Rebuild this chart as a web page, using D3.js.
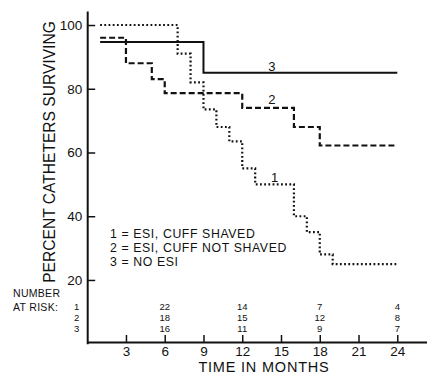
<!DOCTYPE html>
<html>
<head>
<meta charset="utf-8">
<script src="https://cdn.jsdelivr.net/npm/d3@7"></script>
<style>
  body { margin: 0; background: #fff; }
  svg text { font-family: "Liberation Sans", Arial, Helvetica, sans-serif; fill: #111; }
</style>
</head>
<body>
<div id="graphicContainer"></div>
<script>
// survival curves (months, percent surviving)
var months1 = [1, 7, 8, 9, 10, 11, 12, 13, 16, 17, 18, 19, 24]
var values1 = [100, 91, 82, 73.5, 68, 63.5, 55, 50, 40, 35, 28, 25, 25]

var months2 = [1, 3, 5, 6, 12, 16, 18, 24]
var values2 = [96, 88, 83, 78.6, 74, 68, 62.2, 62.2]

var months3 = [1, 9, 24]
var values3 = [94.7, 85, 85]

var xTicks = [3, 6, 9, 12, 15, 18, 21, 24]
var yTicks = [20, 40, 60, 80, 100]

var legendLines = ["1 = ESI, CUFF SHAVED", "2 = ESI, CUFF NOT SHAVED", "3 = NO ESI"]

var riskMonths = [6, 12, 18, 24]
var riskRows = ["1", "2", "3"]
var risk1 = [22, 14, 7, 4]
var risk2 = [18, 15, 12, 8]
var risk3 = [16, 11, 9, 7]

// where each curve number sits (month, percent)
var curveLabels = ["1", "2", "3"]
var curveLabelMonth = [14.5, 14.3, 14.3]
var curveLabelValue = [52.3, 76.5, 87]

let target = "#graphicContainer";

function makeChart() {

    var width = 427, height = 375;

    var svg = d3.select(target).append("svg")
        .attr("width", width)
        .attr("height", height)

    var x = d3.scaleLinear()
        .domain([0, 26.3])
        .range([87.2, 427])

    var y = d3.scaleLinear()
        .domain([0, 104.4])
        .range([343.7, 11])

    // axes
    var xAxis = svg.append("g")
        .attr("transform", "translate(0,342)")
        .call(d3.axisBottom(x).tickValues(xTicks).tickSize(-7).tickSizeOuter(0).tickPadding(5))

    var yAxis = svg.append("g")
        .attr("transform", "translate(" + x(0) + ",0)")
        .call(d3.axisLeft(y).tickValues(yTicks).tickSize(-8).tickSizeOuter(0).tickPadding(6))

    ;[xAxis, yAxis].forEach(a => {
        a.select(".domain").attr("stroke", "#111").attr("stroke-width", 2)
        a.selectAll(".tick line").attr("stroke", "#111").attr("stroke-width", 1.5)
        a.selectAll("text")
            .attr("font-size", 13.5)
            .attr("font-family", "Liberation Sans, Arial, sans-serif")
            .attr("fill", "#111")
    })
    xAxis.selectAll("text").attr("dy", "0.63em")
    yAxis.selectAll(".tick text").attr("x", -5)

    // curves
    var line = d3.line()
        .x(d => x(d[0]))
        .y(d => y(d[1]))
        .curve(d3.curveStepAfter)

    var series = [
        {pts: d3.zip(months1, values1), dash: "1.8,2.4", width: 2.2},
        {pts: d3.zip(months2, values2), dash: "6,3", width: 2.2},
        {pts: d3.zip(months3, values3), dash: null, width: 2}
    ]

    svg.selectAll(".curve")
        .data(series)
        .enter()
        .append("path")
            .attr("class", "curve")
            .attr("fill", "none")
            .attr("stroke", "#111")
            .attr("stroke-width", d => d.width)
            .attr("stroke-dasharray", d => d.dash)
            .attr("d", d => line(d.pts))

    svg.selectAll(".clabel")
        .data(curveLabels)
        .enter()
        .append("text")
            .attr("class", "clabel")
            .attr("x", (d, i) => x(curveLabelMonth[i]))
            .attr("y", (d, i) => y(curveLabelValue[i]))
            .attr("text-anchor", "middle")
            .attr("dy", "0.35em")
            .attr("font-size", 13)
            .attr("fill", "#111")
            .text(d => d)

    // legend
    svg.selectAll(".legend")
        .data(legendLines)
        .enter()
        .append("text")
            .attr("class", "legend")
            .attr("x", 110)
            .attr("y", (d, i) => 237.7 + i * 14.2)
            .attr("font-size", 12.3)
            .attr("letter-spacing", 0.6)
            .attr("fill", "#111")
            .text(d => d)

    // axis titles
    svg.append("text")
        .attr("transform", "translate(55,152) rotate(-90)")
        .attr("text-anchor", "middle")
        .attr("font-size", 15.6)
        .attr("fill", "#111")
        .text("PERCENT CATHETERS SURVIVING")

    svg.append("text")
        .attr("x", 264)
        .attr("y", 371.8)
        .attr("text-anchor", "middle")
        .attr("font-size", 14.5)
        .attr("letter-spacing", 0.8)
        .attr("fill", "#111")
        .text("TIME IN MONTHS")

    // number at risk table
    svg.append("text")
        .attr("x", 13).attr("y", 297)
        .attr("font-size", 10.5)
        .attr("letter-spacing", 0.3)
        .attr("fill", "#111")
        .text("NUMBER")
    svg.append("text")
        .attr("x", 13).attr("y", 310.7)
        .attr("font-size", 10.5)
        .attr("letter-spacing", 0.3)
        .attr("fill", "#111")
        .text("AT RISK:")

    var rowY = [309.5, 320.5, 331.7]
    var riskData = [risk1, risk2, risk3]

    svg.selectAll(".rowlab")
        .data(riskRows)
        .enter()
        .append("text")
            .attr("class", "rowlab")
            .attr("x", 76.7)
            .attr("y", (d, i) => rowY[i])
            .attr("text-anchor", "middle")
            .attr("font-size", 9.5)
            .attr("fill", "#111")
            .text(d => d)

    riskData.forEach((row, r) => {
        svg.selectAll(".risk" + r)
            .data(row)
            .enter()
            .append("text")
                .attr("class", "risk" + r)
                .attr("x", (d, i) => x(riskMonths[i]))
                .attr("y", rowY[r])
                .attr("text-anchor", "middle")
                .attr("font-size", 9.5)
                .attr("fill", "#111")
                .text(d => d)
    })
}

makeChart()
</script>
</body>
</html>
